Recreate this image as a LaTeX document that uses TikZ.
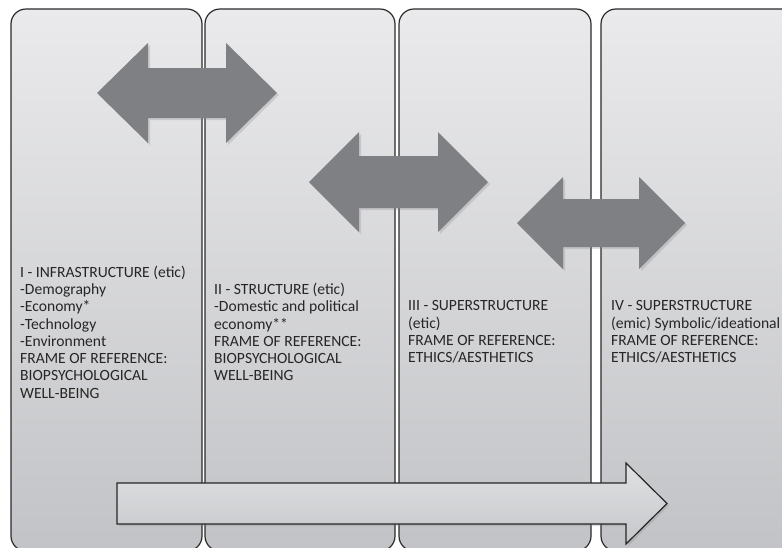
\documentclass[tikz,border=0pt]{standalone}
\usepackage{fontspec}
\setmainfont{Carlito}
\usetikzlibrary{shadows}
\definecolor{panelTop}{HTML}{EAEAEC}
\definecolor{panelBot}{HTML}{C2C3C6}
\definecolor{panelLine}{HTML}{2A2A2A}
\definecolor{arrowGray}{HTML}{7F8083}
\definecolor{flowTop}{HTML}{E0E1E3}
\definecolor{flowBot}{HTML}{C6C7CA}
\tikzset{
  panel/.style={draw=panelLine, line width=1.2pt, rounded corners=15pt,
    top color=panelTop, bottom color=panelBot},
  dblarrow/.style={fill=arrowGray, draw=none,
    drop shadow={opacity=0.25, shadow xshift=2pt, shadow yshift=-2pt}},
  flowarrow/.style={draw=black!85, line width=1.2pt, line join=miter,
    top color=flowTop, bottom color=flowBot,
    drop shadow={opacity=0.25, shadow xshift=2pt, shadow yshift=-2pt}},
  paneltext/.style={anchor=west, align=left, inner sep=0pt,
    font=\fontsize{15.6}{17.3}\selectfont, text=black!85}
}
% double-headed block arrow: centre x, centre y, half length, head length, head half height, shaft half height
\newcommand\twoheadblock[6]{%
  (#1-#3,#2) -- (#1-#3+#4,#2-#5) -- (#1-#3+#4,#2-#6) -- (#1+#3-#4,#2-#6)
  -- (#1+#3-#4,#2-#5) -- (#1+#3,#2) -- (#1+#3-#4,#2+#5) -- (#1+#3-#4,#2+#6)
  -- (#1-#3+#4,#2+#6) -- (#1-#3+#4,#2+#5) -- cycle}
\begin{document}
\begin{tikzpicture}[x=1pt,y=-1pt]
  \useasboundingbox (0,0) rectangle (782,547);
  \clip (0,0) rectangle (782,547);
  \fill[white] (0,0) rectangle (782,547);

  % the four columns
  \path[panel] (11,9) rectangle (202,551);
  \path[panel] (205,9) rectangle (395,551);
  \path[panel] (399,9) rectangle (591,551);
  \path[panel] (601,9) rectangle (796,551);

  % exchanges between neighbouring levels
  \path[dblarrow] \twoheadblock{187}{93}{90}{51}{50}{25};
  \path[dblarrow] \twoheadblock{398.5}{182}{89.5}{50}{50}{26};
  \path[dblarrow] \twoheadblock{601}{223}{84}{46}{46}{24};

  % overall direction
  \path[flowarrow] (117,483) -- (626,483) -- (626,463) -- (667,503.5)
    -- (626,544) -- (626,524) -- (117,524) -- cycle;

  \node[paneltext] (infra) at (20,332) {I - INFRASTRUCTURE (etic)\\-Demography\\-Economy*\\-Technology\\-Environment\\FRAME OF REFERENCE:\\BIOPSYCHOLOGICAL\\WELL-BEING};
  \node[paneltext] (struct) at (214,332) {II - STRUCTURE (etic)\\-Domestic and political\\economy**\\FRAME OF REFERENCE:\\BIOPSYCHOLOGICAL\\WELL-BEING};
  \node[paneltext] (superetic) at (408,332) {III - SUPERSTRUCTURE\\(etic)\\FRAME OF REFERENCE:\\ETHICS/AESTHETICS};
  \node[paneltext] (superemic) at (611,332) {IV - SUPERSTRUCTURE\\(emic) Symbolic/ideational\\FRAME OF REFERENCE:\\ETHICS/AESTHETICS};
\end{tikzpicture}
\end{document}
